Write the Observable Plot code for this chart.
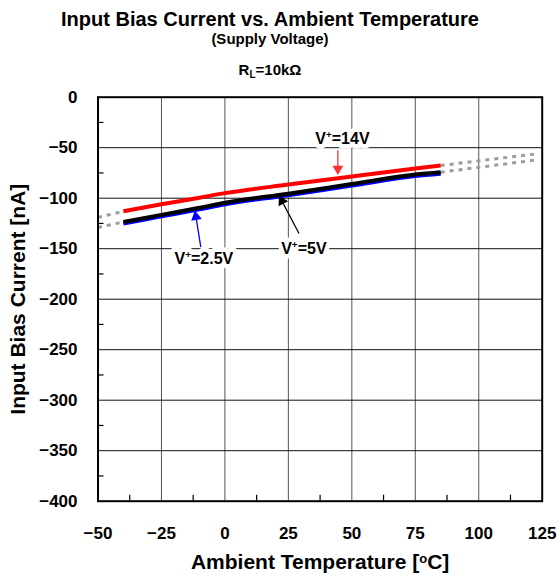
<!DOCTYPE html>
<html><head><meta charset="utf-8">
<script src="https://cdn.jsdelivr.net/npm/d3@7"></script>
<script src="https://cdn.jsdelivr.net/npm/@observablehq/plot@0.6"></script>
<style>
body{margin:0;background:#fff;font-family:"Liberation Sans",Arial,sans-serif;}
#wrap{position:relative;width:560px;height:579px;overflow:hidden;}
#head{position:relative;height:85px;width:560px;}
.t{position:absolute;left:0;width:540px;text-align:center;font-weight:bold;color:#000;white-space:nowrap;}
.t sub{font-size:10px;vertical-align:-3px;line-height:0;}
</style></head><body>
<div id="wrap">
  <div id="head">
    <div class="t" style="top:6.5px;font-size:20px;line-height:24px">Input Bias Current vs. Ambient Temperature</div>
    <div class="t" style="top:29.8px;font-size:15px;line-height:18px">(Supply Voltage)</div>
    <div class="t" style="top:60.8px;font-size:15px;line-height:18px">R<sub>L</sub>=10kΩ</div>
  </div>
  <div id="chart"></div>
</div>
<script>
// ---- data ----
const temps = [-40, -25, -10, 0, 25, 50, 75, 85];
const v14  = [-113, -106, -99.5, -95, -86.5, -78.5, -70.5, -67.6];
const v5   = [-123.5, -116.5, -109.5, -104.5, -95.5, -86, -76.5, -74.3];
const v25  = [-125, -118, -111, -106, -97, -87.5, -78, -75.8];

// dotted (extrapolated) extensions
const extLowT   = [-50, -40];
const ext14Low  = [-119, -113];
const ext5Low   = [-129, -123.5];
const extHighT  = [85, 123];
const ext14High = [-67.6, -56];
const ext5High  = [-74.3, -62];

// ticks
const xTicks = [-50, -25, 0, 25, 50, 75, 100, 125];
const yTicks = [0, -50, -100, -150, -200, -250, -300, -350, -400];
const xMinor = [-37.5, -12.5, 12.5, 37.5, 62.5, 87.5, 112.5];
const yMinor = [-25, -75, -125, -175, -225, -275, -325, -375];

// annotations
const labelText = ["V^+=14V", "V^+=5V", "V^+=2.5V"];
const labelX = [46.3, 31.1, -8.3];
const labelY = [-40.9, -149.8, -159.7];
const arrowColor = ["#ff3030", "#000000", "#0000ff"];
const arrowTailX = [44.5, 29.2, -9.5];
const arrowTailY = [-52.5, -135, -148.5];
const arrowTipX  = [44.5, 21.3, -11.8];
const arrowTipY  = [-77, -97.3, -112.2];
const headBack   = [0.25, 0.145, 0.17];
const headRotate = [180, -27.8, -9.3];

const xLabel = "Ambient Temperature [^oC]";
const yLabel = "Input Bias Current [nA]";

// ---- build tables ----
const toRows = (xs, ys) => xs.map((x, i) => ({x, y: ys[i]}));
const r14 = toRows(temps, v14), r5 = toRows(temps, v5), r25 = toRows(temps, v25);
const dots = [toRows(extLowT, ext14Low), toRows(extLowT, ext5Low), toRows(extHighT, ext14High), toRows(extHighT, ext5High)];
const labels = labelText.map((t, i) => ({t, x: labelX[i], y: labelY[i]}));
const arrows = arrowColor.map((c, i) => {
  const hx = arrowTipX[i] + headBack[i] * (arrowTailX[i] - arrowTipX[i]);
  const hy = arrowTipY[i] + headBack[i] * (arrowTailY[i] - arrowTipY[i]);
  return {c, x1: arrowTailX[i], y1: arrowTailY[i], hx, hy, rot: headRotate[i]};
});

const plot = Plot.plot({
  width: 560,
  height: 494,
  marginTop: 11.7,
  marginBottom: 78.3,
  marginLeft: 97.5,
  marginRight: 18.3,
  style: {fontFamily: "'Liberation Sans', Arial, sans-serif", fontSize: "17px", fontWeight: "bold", color: "#000", background: "#fff"},
  x: {domain: [-50, 125]},
  y: {domain: [-400, 0]},
  marks: [
    Plot.ruleX(xTicks.slice(1, -1), {stroke: "#555", strokeWidth: 1}),
    Plot.ruleY(yTicks.slice(1, -1), {stroke: "#111", strokeWidth: 1}),
    ...dots.map(d => Plot.line(d, {x: "x", y: "y", stroke: "#9d9d9d", strokeWidth: 3, strokeDasharray: "4,5", strokeLinecap: "butt"})),
    Plot.line(r25, {x: "x", y: "y", stroke: "#0000ff", strokeWidth: 4, curve: "monotone-x", strokeLinecap: "butt"}),
    Plot.line(r5, {x: "x", y: "y", stroke: "#000000", strokeWidth: 4, curve: "monotone-x", strokeLinecap: "butt"}),
    Plot.line(r14, {x: "x", y: "y", stroke: "#ff0000", strokeWidth: 4, curve: "monotone-x", strokeLinecap: "butt"}),
    Plot.frame({stroke: "#000", strokeWidth: 2}),
    Plot.axisX({ticks: xMinor, tickSize: -6, tickFormat: () => "", label: null, strokeWidth: 1.2}),
    Plot.axisY({ticks: yMinor, tickSize: -6, tickFormat: () => "", label: null, strokeWidth: 1.2}),
    Plot.axisX({ticks: xTicks, tickSize: 0, tickPadding: 26, label: null, fontSize: 17}),
    Plot.axisY({ticks: yTicks, tickSize: 0, tickPadding: 20.5, label: null, fontSize: 17}),
    // white halo that breaks the grid behind the labels
    Plot.text(labels, {x: "x", y: "y", text: "t", fontSize: 16, fontWeight: "bold", fill: "#fff", stroke: "#fff", strokeWidth: 9}),
    Plot.text(labels, {x: "x", y: "y", text: "t", fontSize: 16, fontWeight: "bold", fill: "#000"}),
    Plot.link(arrows, {x1: "x1", y1: "y1", x2: "hx", y2: "hy", stroke: "c", strokeWidth: 1.3}),
    Plot.dot(arrows, {x: "hx", y: "hy", symbol: "triangle", r: 4, fill: "c", stroke: null, rotate: "rot"}),
    Plot.text([xLabel], {frameAnchor: "bottom", dy: 61, text: d => d, fontSize: 21, fontWeight: "bold", textAnchor: "middle", lineAnchor: "middle"}),
    Plot.text([yLabel], {frameAnchor: "left", dx: -79.5, rotate: -90, text: d => d, fontSize: 21, fontWeight: "bold", textAnchor: "middle", lineAnchor: "middle"})
  ]
});

// superscripts (V⁺, °C)
d3.select(plot).selectAll("text").each(function() {
  const s = this.textContent;
  const i = s.indexOf("^");
  if (i < 0) return;
  const el = d3.select(this);
  el.text(null);
  el.append("tspan").text(s.slice(0, i));
  el.append("tspan").attr("dy", -6).attr("font-size", "0.62em").text(s[i + 1]);
  el.append("tspan").attr("dy", 6).text(s.slice(i + 2));
});

document.getElementById("chart").appendChild(plot);
</script>
</body></html>
